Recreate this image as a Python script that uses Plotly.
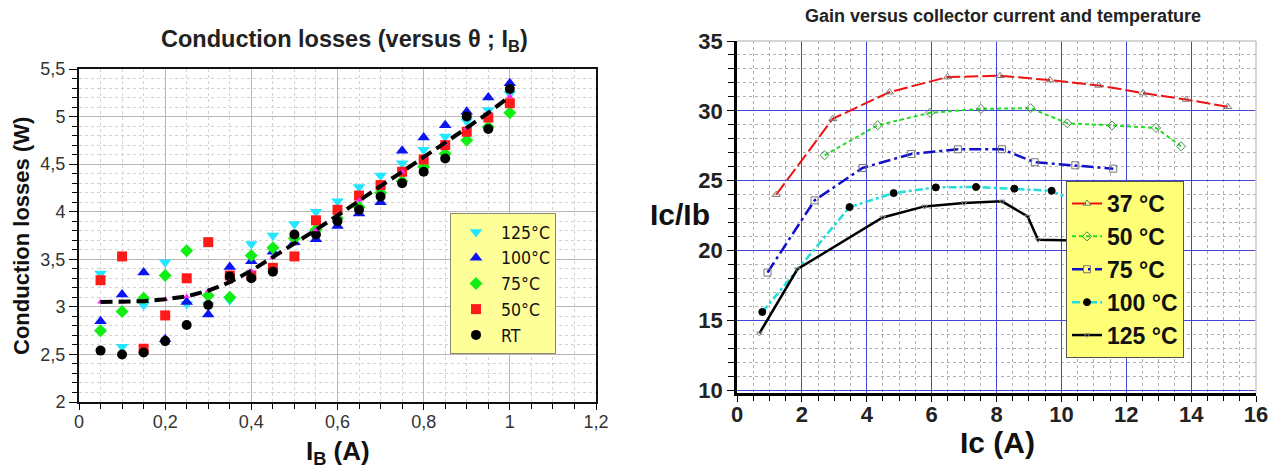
import plotly.graph_objects as go

# ---------------- Left panel data ----------------
ib = [0.05, 0.10, 0.15, 0.20, 0.25, 0.30, 0.35, 0.40, 0.45, 0.50,
      0.55, 0.60, 0.65, 0.70, 0.75, 0.80, 0.85, 0.90, 0.95, 1.00]
loss_125 = [3.35, 2.58, 3.02, 3.47, 3.03, 3.02, 3.07, 3.66, 3.75, 3.87,
            4.00, 4.11, 4.26, 4.38, 4.51, 4.65, 4.79, 4.95, 5.07, 5.24]
loss_100 = [2.85, 3.13, 3.36, 2.66, 3.05, 2.92, 3.42, 3.48, 3.58, 3.68,
            3.71, 3.85, 3.98, 4.10, 4.64, 4.78, 4.91, 5.05, 5.20, 5.35]
loss_75 = [2.75, 2.95, 3.09, 3.33, 3.59, 3.12, 3.10, 3.54, 3.62, 3.72,
           3.81, 3.93, 4.05, 4.20, 4.32, 4.47, 4.61, 4.75, 4.89, 5.04]
loss_50 = [3.28, 3.53, 2.56, 2.91, 3.30, 3.68, 3.33, 3.33, 3.41, 3.53,
           3.91, 4.02, 4.17, 4.28, 4.42, 4.55, 4.70, 4.84, 4.99, 5.14]
loss_rt = [2.54, 2.50, 2.52, 2.64, 2.81, 3.02, 3.32, 3.30, 3.37, 3.76,
           3.76, 3.90, 4.02, 4.16, 4.30, 4.42, 4.56, 5.00, 4.87, 5.29]
loss_fit = [3.05, 3.05, 3.06, 3.08, 3.11, 3.17, 3.26, 3.38, 3.52, 3.66,
            3.81, 3.96, 4.12, 4.27, 4.42, 4.57, 4.72, 4.88, 5.04, 5.21]
left_names = ["125°C", "100°C", "75°C", "50°C", "RT"]
left_xticks = [0, 0.2, 0.4, 0.6, 0.8, 1.0, 1.2]
left_xtext = ["0", "0,2", "0,4", "0,6", "0,8", "1", "1,2"]
left_yticks = [2, 2.5, 3, 3.5, 4, 4.5, 5, 5.5]
left_ytext = ["2", "2,5", "3", "3,5", "4", "4,5", "5", "5,5"]

# ---------------- Right panel data ----------------
ic_37 = [1.21, 2.95, 4.70, 6.49, 8.11, 9.65, 11.15, 12.52, 13.85, 15.13]
g_37 = [24.0, 29.43, 31.34, 32.42, 32.51, 32.2, 31.82, 31.27, 30.81, 30.29]
ic_50 = [2.70, 4.34, 5.95, 7.52, 9.05, 10.18, 11.56, 12.92, 13.69]
g_50 = [26.82, 28.97, 29.86, 30.14, 30.19, 29.11, 28.95, 28.78, 27.46]
ic_75 = [0.94, 2.39, 3.87, 5.37, 6.81, 8.17, 9.18, 10.43, 11.60]
g_75 = [18.42, 23.59, 25.91, 26.91, 27.25, 27.25, 26.32, 26.10, 25.86]
ic_100 = [0.78, 3.47, 4.83, 6.13, 7.37, 8.55, 9.70, 10.6]
g_100 = [15.60, 23.11, 24.11, 24.52, 24.55, 24.43, 24.28, 23.3]
ic_125 = [0.69, 1.86, 4.49, 5.78, 7.00, 8.17, 8.96, 9.28, 10.5]
g_125 = [14.07, 18.66, 22.37, 23.16, 23.40, 23.52, 22.44, 20.77, 20.72]
right_names = ["37 °C", "50 °C", "75 °C", "100 °C", "125 °C"]
right_xticks = [0, 2, 4, 6, 8, 10, 12, 14, 16]
right_yticks = [10, 15, 20, 25, 30, 35]

NARROW = "Liberation Sans Narrow, DejaVu Sans Condensed, Arial Narrow, sans-serif"
SANS = "Liberation Sans, Arial, sans-serif"

fig = go.Figure()

# Left scatter series
left_series = [
    (loss_125, "#22e6ff", "triangle-down", 11),
    (loss_100, "#0a14f0", "triangle-up", 11),
    (loss_75, "#11ee11", "diamond", 10),
    (loss_50, "#ff1a1a", "square", 10),
    (loss_rt, "#000000", "circle", 10),
]
for i, (vals, col, sym, sz) in enumerate(left_series):
    fig.add_trace(go.Scatter(
        x=ib, y=vals, mode="markers", name=left_names[i],
        marker=dict(color=col, symbol=sym, size=sz, line=dict(width=0)),
        xaxis="x", yaxis="y", legend="legend",
        legendgroup="L%d" % i,
    ))
# Fit curve: magenta markers + dashed black line
fig.add_trace(go.Scatter(
    x=ib, y=loss_fit, mode="markers", showlegend=False,
    marker=dict(color="#ff22ff", symbol="triangle-up", size=6),
    xaxis="x", yaxis="y"))
fig.add_trace(go.Scatter(
    x=ib, y=loss_fit, mode="lines", showlegend=False,
    line=dict(color="#000000", width=4, dash="12px,6px"),
    xaxis="x", yaxis="y"))

# Right line series
right_series = [
    (ic_37, g_37, "#ee1111", "14px,4px", "triangle-up-open", "#777777", 7, 2),
    (ic_50, g_50, "#22dd22", "4px,3px", "diamond-open", "#4a8a4a", 7, 2),
    (ic_75, g_75, "#1111cc", "12px,4px,3px,4px", "square-open", "#777777", 7, 2.5),
    (ic_100, g_100, "#22dddd", "8px,3px,3px,3px", "circle", "#000000", 7, 2.5),
    (ic_125, g_125, "#000000", "solid", "triangle-down-open", "#888888", 5, 2.5),
]
for i, (xs, ys, col, dash, sym, mcol, msz, lw) in enumerate(right_series):
    fig.add_trace(go.Scatter(
        x=xs, y=ys, mode="lines+markers", name=right_names[i],
        line=dict(color=col, width=lw, dash=dash),
        marker=dict(symbol=sym, color=mcol, size=msz, line=dict(color=mcol, width=1)),
        xaxis="x2", yaxis="y2", legend="legend2",
        legendgroup="R%d" % i,
    ))


def ann(text, x, y, size, angle=0, family=SANS, color="#111111"):
    return dict(text=text, xref="paper", yref="paper", x=x, y=y,
                xanchor="center", yanchor="middle", showarrow=False,
                textangle=angle,
                font=dict(family=family, size=size, color=color, weight="bold"))


W, H = 1274, 470

fig.update_layout(
    width=W, height=H,
    margin=dict(l=0, r=0, t=0, b=0, pad=0, autoexpand=False),
    paper_bgcolor="white", plot_bgcolor="white",
    font=dict(family=SANS, color="#222222"),
    xaxis=dict(
        domain=[79 / W, 596 / W], anchor="y", range=[0, 1.2], automargin=False,
        tickvals=left_xticks, ticktext=left_xtext,
        tickfont=dict(family=SANS, size=18, color="#333333"),
        showgrid=True, gridcolor="#b8b8b8", gridwidth=1.2, zeroline=False,
        showline=True, linecolor="#111111", linewidth=2, mirror=True,
        ticks="outside", ticklen=6, tickcolor="#000000", ticklabelstandoff=-4,
        minor=dict(dtick=0.05, tick0=0, showgrid=True, gridcolor="#d2d2d2",
                   griddash="dot", ticks="outside", ticklen=5, tickcolor="#000000"),
    ),
    yaxis=dict(
        domain=[1 - 402 / H, 1 - 69 / H], anchor="x", range=[2, 5.5], automargin=False,
        tickvals=left_yticks, ticktext=left_ytext,
        tickfont=dict(family=SANS, size=18, color="#333333"),
        showgrid=True, gridcolor="#b8b8b8", gridwidth=1.2, zeroline=False,
        showline=True, linecolor="#111111", linewidth=2, mirror=True,
        ticks="outside", ticklen=8, tickcolor="#000000",
        minor=dict(dtick=0.1, tick0=2, showgrid=True, gridcolor="#d2d2d2",
                   griddash="dot", ticks="outside", ticklen=5, tickcolor="#000000"),
    ),
    xaxis2=dict(
        domain=[737 / W, 1256 / W], anchor="y2", range=[0, 16], automargin=False,
        tickvals=right_xticks,
        tickfont=dict(family=SANS, size=22, color="#222222", weight="bold"),
        showgrid=True, gridcolor="#4646d6", gridwidth=1, zeroline=False,
        showline=True, linecolor="#000000", linewidth=2.5, mirror=False,
        ticks="outside", ticklen=6, tickcolor="#000000", ticklabelstandoff=-6,
        minor=dict(dtick=0.5, tick0=0, showgrid=True, gridcolor="#b0b0b0",
                   griddash="dot", ticks="outside", ticklen=5, tickcolor="#000000"),
    ),
    yaxis2=dict(
        domain=[1 - 393 / H, 1 - 41 / H], anchor="x2", range=[9.8, 35], automargin=False,
        tickvals=right_yticks,
        tickfont=dict(family=SANS, size=22, color="#222222", weight="bold"),
        showgrid=True, gridcolor="#4646d6", gridwidth=1, zeroline=False,
        showline=True, linecolor="#000000", linewidth=2.5, mirror=False,
        ticks="outside", ticklen=7, tickcolor="#000000",
        minor=dict(dtick=1, tick0=10, showgrid=True, gridcolor="#b0b0b0",
                   griddash="dot", ticks="outside", ticklen=6, tickcolor="#000000"),
    ),
    legend=dict(
        x=450 / W, y=1 - 213 / H, xanchor="left", yanchor="top",
        bgcolor="#ffff99", bordercolor="#8a8a6a", borderwidth=1,
        font=dict(family=NARROW, size=17.5, color="#111111"),
        traceorder="grouped", tracegroupgap=0, itemwidth=40,
    ),
    legend2=dict(
        x=1066 / W, y=1 - 181 / H, xanchor="left", yanchor="top",
        bgcolor="#ffff77", bordercolor="#555555", borderwidth=1,
        font=dict(family=SANS, size=23, color="#111111", weight="bold"),
        traceorder="grouped", tracegroupgap=0, itemwidth=30,
    ),
    shapes=[
        dict(type="line", xref="x2 domain", yref="y2 domain", x0=0, x1=1, y0=1, y1=1,
             line=dict(color="#c8c8c8", width=1.5)),
        dict(type="line", xref="x2 domain", yref="y2 domain", x0=1, x1=1, y0=0, y1=1,
             line=dict(color="#c8c8c8", width=1.5)),
    ],
    annotations=[
        ann("Conduction losses (versus θ ; I<sub>B</sub>)", 344 / W, 1 - 40 / H, 23.5, color="#222222"),
        ann("Conduction losses (W)", 22 / W, 1 - 236 / H, 22, angle=-90),
        ann("I<sub>B</sub> (A)", 338 / W, 1 - 452 / H, 26),
        ann("Gain versus collector current and temperature", 1003 / W, 1 - 16 / H, 18, color="#222222"),
        ann("Ic/Ib", 680 / W, 1 - 215 / H, 30),
        ann("Ic (A)", 997 / W, 1 - 442 / H, 30),
    ],
)

fig.write_html(
    "out.html",
    config={"displayModeBar": False},
    post_script="document.body.style.margin='0';document.body.style.padding='0';",
)
